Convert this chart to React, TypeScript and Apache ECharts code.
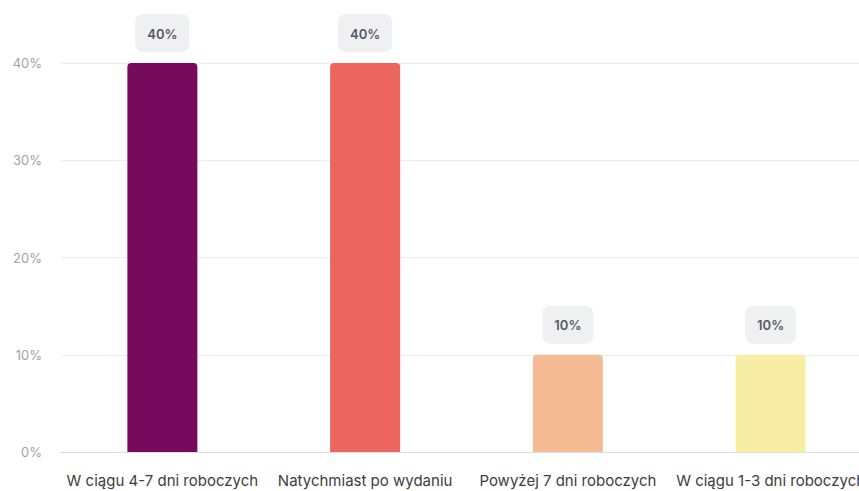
import React, { useEffect, useRef } from "react";
import * as echarts from "echarts";

const categories = [
  "W ciągu 4-7 dni roboczych",
  "Natychmiast po wydaniu",
  "Powyżej 7 dni roboczych",
  "W ciągu 1-3 dni roboczych",
];
const values = [40, 40, 10, 10];
const colors = ["#780A5D", "#EC665F", "#F5BC93", "#F7EDA4"];
const yTicks = [0, 10, 20, 30, 40];

export default function App() {
  const ref = useRef<HTMLDivElement>(null);
  useEffect(() => {
    if (!ref.current) return;
    const chart = echarts.init(ref.current, null, { renderer: "svg" });
    chart.setOption({
      animation: false,
      grid: { left: 61, right: 29, top: 63, bottom: 39, containLabel: false },
      xAxis: {
        type: "category",
        data: categories,
        axisTick: { show: false },
        axisLine: { show: true, lineStyle: { color: "#DCDFE8", width: 1 } },
        axisLabel: {
          color: "#3d3d3d",
          fontSize: 15,
          fontFamily: "Inter",
          margin: 21,
          interval: 0,
        },
      },
      yAxis: {
        type: "value",
        min: yTicks[0],
        max: yTicks[yTicks.length - 1],
        interval: 10,
        axisLabel: {
          color: "#a3a3a3",
          fontSize: 13,
          fontFamily: "Inter",
          margin: 19,
          formatter: "{value}%",
        },
        splitLine: { lineStyle: { color: "#ECEDF2", width: 1 } },
        axisLine: { show: false },
        axisTick: { show: false },
      },
      series: [
        {
          type: "bar",
          barWidth: 70,
          data: values.map((v, i) => ({
            value: v,
            itemStyle: { color: colors[i], borderRadius: [4, 4, 0, 0] },
          })),
          label: {
            show: true,
            position: "top",
            distance: 11,
            formatter: "{c}%",
            color: "#555a66",
            fontSize: 13,
            fontWeight: 600,
            fontFamily: "Inter",
            backgroundColor: "#EEF0F2",
            borderRadius: 8,
            padding: [13, 12, 12, 12],
          },
        },
      ],
    });
    return () => chart.dispose();
  }, []);
  return (
    <div
      style={{
        position: "fixed",
        left: 0,
        top: 0,
        width: 859,
        height: 491,
        overflow: "hidden",
        background: "#fff",
      }}
    >
      <div ref={ref} style={{ width: 901, height: 491 }} />
    </div>
  );
}
